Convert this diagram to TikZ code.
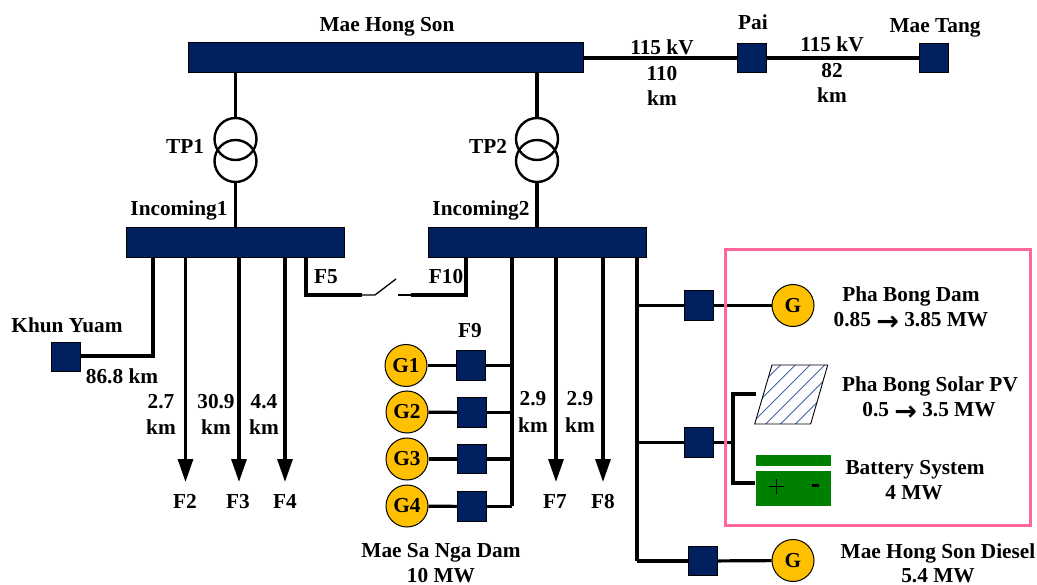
\documentclass[tikz,border=0pt]{standalone}
\usepackage{fontspec}
\setmainfont{Liberation Serif}
\usetikzlibrary{arrows.meta}
\definecolor{busblue}{RGB}{0,32,96}
\definecolor{genyellow}{RGB}{255,192,0}
\definecolor{battgreen}{RGB}{0,128,0}
\definecolor{framepink}{RGB}{255,102,153}
\definecolor{hatchblue}{RGB}{70,100,160}
\tikzset{
  x=1pt,y=-1pt,
  wire/.style={line width=3.2pt,line cap=butt,line join=miter,black},
  thinwire/.style={line width=1.3pt,black},
  feeder/.style={wire,-{Triangle[width=15pt,length=23pt]}},
  bus/.style={rectangle,draw=black,line width=0.6pt,fill=busblue,inner sep=0pt,minimum height=30pt},
  breaker/.style={rectangle,draw=black,line width=0.6pt,fill=busblue,inner sep=0pt,minimum width=28.5pt,minimum height=29.5pt},
  gen/.style={circle,draw=black,line width=1pt,fill=genyellow,inner sep=0pt,minimum size=42pt,font=\fontsize{21.3}{24}\selectfont\bfseries},
  coil/.style={circle,draw=black,line width=2.4pt,inner sep=0pt,minimum size=42pt},
  lbl/.style={anchor=base,inner sep=0pt,font=\fontsize{21.3}{24}\selectfont\bfseries},
}
\newcommand{\arw}{\raisebox{-3.5pt}{\fontspec{DejaVu Sans}\fontsize{27}{24}\selectfont\bfseries →}}
\begin{document}
\begin{tikzpicture}
\path[use as bounding box] (0,0) rectangle (1037,585);
% buses
\node[bus,minimum width=395pt] (mhs) at (386,57) {};
\node[bus,minimum width=218pt] (in1) at (235,242) {};
\node[bus,minimum width=218pt] (in2) at (537,242) {};
% top breakers
\node[breaker] (pai) at (752,58) {};
\node[breaker] (mtang) at (934,58) {};
\draw[wire] (mhs.east |- pai) -- (pai);
\draw[wire] (pai) -- (mtang);
% transformers
\node[coil] (tp1a) at (235.5,139) {};
\node[coil] (tp1b) at (235.5,161) {};
\node[coil] (tp2a) at (537,139) {};
\node[coil] (tp2b) at (537,161) {};
\draw[wire] (mhs.south -| tp1a) -- (tp1a.north);
\draw[wire] (tp1b.south) -- (in1.north -| tp1b);
\draw[wire] (mhs.south -| tp2a) -- (tp2a.north);
\draw[wire] (tp2b.south) -- (in2.north -| tp2b);
% Khun Yuam
\node[breaker] (ky) at (66,357) {};
\coordinate (kyt) at (153,356);
\draw[wire] (in1.south -| kyt) -- (kyt) -- (ky.east |- kyt);
% feeder arrows
\coordinate (f2t) at (185.5,482);
\coordinate (f3t) at (239,482);
\coordinate (f4t) at (285,482);
\coordinate (f7t) at (556,482);
\coordinate (f8t) at (603,482);
\draw[feeder] (in1.south -| f2t) -- (f2t);
\draw[feeder] (in1.south -| f3t) -- (f3t);
\draw[feeder] (in1.south -| f4t) -- (f4t);
\draw[feeder] (in2.south -| f7t) -- (f7t);
\draw[feeder] (in2.south -| f8t) -- (f8t);
% tie switch
\coordinate (f5c) at (306,295);
\coordinate (swa) at (362,295);
\coordinate (swb) at (375,295);
\coordinate (swc) at (396,279);
\coordinate (swd) at (398,295);
\coordinate (swe) at (411,295);
\coordinate (f10c) at (466,295);
\draw[wire] (in1.south -| f5c) -- (f5c) -- (swa);
\draw[thinwire] (swa) -- (swb) -- (swc);
\draw[thinwire] (swd) -- (swe);
\draw[wire] (swe) -- (f10c) -- (in2.south -| f10c);
% Mae Sa Nga
\coordinate (g4j) at (512,505.5);
\draw[wire] (in2.south -| g4j) -- (g4j);
\node[breaker] (b1) at (471,365.5) {};
\node[breaker] (b2) at (472,412.5) {};
\node[breaker] (b3) at (472,459) {};
\node[breaker] (b4) at (472,506.5) {};
\node[gen] (g1) at (406,365.5) {G1};
\node[gen] (g2) at (407,412) {G2};
\node[gen] (g3) at (407,459) {G3};
\node[gen] (g4) at (407,506) {G4};
\draw[wire] (g1) -- (b1);
\draw[wire] (g2) -- (b2);
\draw[wire] (g3) -- (b3);
\draw[wire] (g4) -- (b4);
\draw[wire] (b1) -- (b1 -| g4j);
\draw[wire] (b2) -- (b2 -| g4j);
\draw[wire] (b3) -- (b3 -| g4j);
\draw[wire] (b4) -- (b4 -| g4j);
% right side
\coordinate (rb) at (637,561);
\draw[wire] (in2.south -| rb) -- (rb);
\node[breaker] (b5) at (699,305.5) {};
\node[breaker] (b6) at (699,442.5) {};
\node[breaker] (b7) at (703,561) {};
\node[gen] (gp) at (793,305.5) {G};
\node[gen] (gd) at (793,560.5) {G};
\draw[wire] (b5 -| rb) -- (b5);
\draw[wire] (b5) -- (gp);
\draw[wire] (b6 -| rb) -- (b6);
\draw[wire] (rb) -- (b7);
\draw[wire] (b7) -- (gd);
% solar and battery
\coordinate (pvl) at (756,394);
\coordinate (batl) at (755,483);
\coordinate (jn) at (733,442.5);
\draw[wire] (pvl) -- (pvl -| jn) -- (batl -| jn) -- (batl);
\draw[wire] (b6) -- (jn);
\begin{scope}
\clip (772,365) -- (827.7,365) -- (810.7,424) -- (754.7,424) -- cycle;
\foreach \k in {-5,...,6} {
  \draw[hatchblue,line width=0.9pt] ({745+14.8*\k},430) -- ({745+14.8*\k+70},360);
}
\end{scope}
\draw[black,line width=0.9pt] (772,365) -- (827.7,365) -- (810.7,424) -- (754.7,424) -- cycle;
\fill[battgreen] (756,455) rectangle (831,466);
\fill[battgreen] (756,471) rectangle (831,506);
\draw[black,line width=1.4pt] (769,486.5) -- (784,486.5) (776.5,479) -- (776.5,494);
\draw[black,line width=3pt] (812,485.5) -- (819,485.5);
% pink frame
\draw[framepink,line width=3pt] (725.5,249.5) rectangle (1030,525.5);
% labels
\node[lbl] (t1) at (387,32) {Mae Hong Son};
\node[lbl] (t2) at (753,30) {Pai};
\node[lbl] (t3) at (935,33) {Mae Tang};
\node[lbl] (t4) at (662,55) {115 kV};
\node[lbl] (t5) at (662,81) {110};
\node[lbl] (t6) at (662,106) {km};
\node[lbl] (t7) at (832,52) {115 kV};
\node[lbl] (t8) at (832,78) {82};
\node[lbl] (t9) at (832,103) {km};
\node[lbl] (t10) at (185,154) {TP1};
\node[lbl] (t11) at (488,154) {TP2};
\node[lbl] (t12) at (179,216) {Incoming1};
\node[lbl] (t13) at (481,216) {Incoming2};
\node[lbl] (t14) at (326,284) {F5};
\node[lbl] (t15) at (446,284) {F10};
\node[lbl] (t16) at (67,333) {Khun Yuam};
\node[lbl] (t17) at (122,384) {86.8 km};
\node[lbl] (t18) at (161,409) {2.7};
\node[lbl] (t19) at (161,435) {km};
\node[lbl] (t20) at (216,409) {30.9};
\node[lbl] (t21) at (216,435) {km};
\node[lbl] (t22) at (264,409) {4.4};
\node[lbl] (t23) at (264,435) {km};
\node[lbl] (t24) at (185,508) {F2};
\node[lbl] (t25) at (238,508) {F3};
\node[lbl] (t26) at (285,508) {F4};
\node[lbl] (t27) at (470,338) {F9};
\node[lbl] (t28) at (533,406) {2.9};
\node[lbl] (t29) at (533,433) {km};
\node[lbl] (t30) at (580,406) {2.9};
\node[lbl] (t31) at (580,433) {km};
\node[lbl] (t32) at (555,508) {F7};
\node[lbl] (t33) at (603,508) {F8};
\node[lbl] (t34) at (441,557) {Mae Sa Nga Dam};
\node[lbl] (t35) at (441,582) {10 MW};
\node[lbl] (t36) at (911,302) {Pha Bong Dam};
\node[lbl] (t37) at (911,327) {0.85 \arw\ 3.85 MW};
\node[lbl] (t38) at (930,392) {Pha Bong Solar PV};
\node[lbl] (t39) at (929,417) {0.5 \arw\ 3.5 MW};
\node[lbl] (t40) at (915,475) {Battery System};
\node[lbl] (t41) at (914,500) {4 MW};
\node[lbl] (t42) at (938,558) {Mae Hong Son Diesel};
\node[lbl] (t43) at (938,582) {5.4 MW};
\end{tikzpicture}
\end{document}
